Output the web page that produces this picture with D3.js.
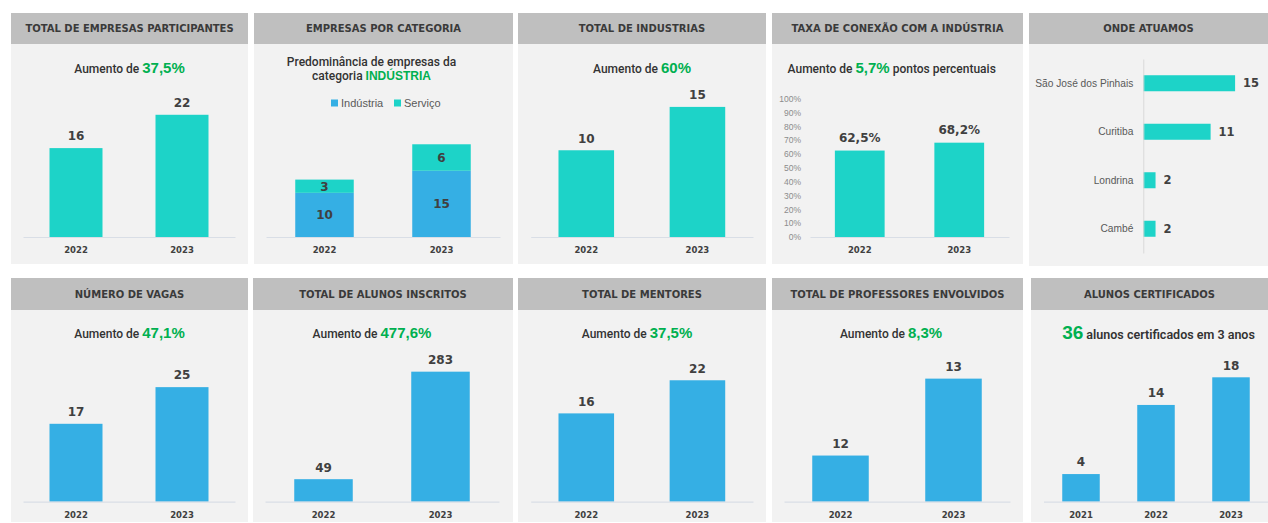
<!DOCTYPE html>
<html>
<head>
<meta charset="utf-8">
<script src="https://cdn.jsdelivr.net/npm/d3@7"></script>
<style>
  body { margin: 0; background: #fff; }
  svg { display: block; font-family: "Liberation Sans", Arial, sans-serif; }
</style>
</head>
<body>
<svg id="dash" width="1268" height="523"></svg>
<script>
// ---- dados ----
const years = ["2022", "2023"];
const yearsCert = ["2021", "2022", "2023"];
const empresasParticipantes = [16, 22];
const empresasIndustria = [10, 15];
const empresasServico = [3, 6];
const totalIndustrias = [10, 15];
const taxaConexao = [62.5, 68.2];
const percentTicks = [0, 10, 20, 30, 40, 50, 60, 70, 80, 90, 100];
const cidades = ["São José dos Pinhais", "Curitiba", "Londrina", "Cambé"];
const empresasPorCidade = [15, 11, 2, 2];
const numeroVagas = [17, 25];
const alunosInscritos = [49, 283];
const totalMentores = [16, 22];
const totalProfessores = [12, 13];
const alunosCertificados = [4, 14, 18];
const legendItems = ["Indústria", "Serviço"];

const TEAL = "#1DD3C8", BLUE = "#35AFE4", GREEN = "#00B050", DARK = "#404040";
const BOLD = "'DejaVu Sans', sans-serif";

const pt = d3.formatLocale({decimal: ",", thousands: ".", grouping: [3], currency: ["R$", ""]});
const pct1 = v => pt.format(".1f")(v) + "%";

const svg = d3.select("#dash");

// moldura de cada painel: cabeçalho cinza + corpo claro
function panel(x0, x1, top, headBottom, bottom, title) {
  const g = svg.append("g");
  g.append("rect").attr("x", x0).attr("y", top).attr("width", x1 - x0).attr("height", headBottom - top).attr("fill", "#BFBFBF");
  g.append("rect").attr("x", x0).attr("y", headBottom).attr("width", x1 - x0).attr("height", bottom - headBottom).attr("fill", "#F2F2F2");
  g.append("text")
    .attr("x", (x0 + x1) / 2).attr("y", (top + headBottom) / 2).attr("dy", "0.36em")
    .attr("text-anchor", "middle")
    .style("font-family", BOLD).style("font-weight", "bold").style("font-size", "10px")
    .attr("fill", "#3A3A3A").text(title);
  return g;
}

// subtítulo com partes coloridas
function subtitle(g, cx, cy, parts) {
  const t = g.append("text").attr("x", cx).attr("y", cy).attr("dy", "0.35em").attr("text-anchor", "middle");
  parts.forEach(p => {
    const s = t.append("tspan").text(p.t)
      .attr("fill", p.green ? GREEN : "#333")
      .style("font-size", (p.size || 12) + "px");
    if (p.green) s.style("font-weight", "bold");
    else s.style("font-family", "Roboto, sans-serif").style("font-weight", p.bold ? 600 : 500);
  });
  return t;
}

function xAxisBottom(g, x, base) {
  const ax = g.append("g").attr("transform", `translate(0,${base})`)
    .call(d3.axisBottom(x).tickSize(0).tickSizeOuter(0).tickPadding(10));
  ax.select(".domain").attr("stroke", "#D9DEE6").attr("stroke-width", 1.2);
  ax.selectAll("text").attr("fill", DARK)
    .style("font-family", BOLD).style("font-weight", "bold").style("font-size", "8.5px");
}

function vbar(g, cfg) {
  const x = d3.scaleBand().domain(cfg.cats).range(cfg.axisX).paddingInner(0.5).paddingOuter(0.25);
  const y = d3.scaleLinear().domain(cfg.domain).range([cfg.base, cfg.base - 170]);
  const data = cfg.cats.map((c, i) => ({c, v: cfg.vals[i]}));
  g.append("g").selectAll("rect").data(data).join("rect")
    .attr("x", d => x(d.c)).attr("width", x.bandwidth())
    .attr("y", d => y(d.v)).attr("height", d => cfg.base - y(d.v))
    .attr("fill", cfg.color);
  g.append("g").selectAll("text").data(data).join("text")
    .attr("x", d => x(d.c) + x.bandwidth() / 2).attr("y", d => y(d.v) - 12).attr("dy", "0.36em")
    .attr("text-anchor", "middle").attr("fill", DARK)
    .style("font-family", BOLD).style("font-weight", "bold").style("font-size", "12px")
    .text(d => cfg.fmt ? cfg.fmt(d.v) : d.v);
  xAxisBottom(g, x, cfg.base);
  return {x, y};
}

// ---------- linha 1 ----------
const B1 = 237, B2 = 501.7;

// 1. Total de empresas participantes
let g = panel(11, 248, 13, 44, 264, "TOTAL DE EMPRESAS PARTICIPANTES");
subtitle(g, 129.5, 67, [{t: "Aumento de "}, {t: "37,5%", green: true, size: 15}]);
vbar(g, {cats: years, vals: empresasParticipantes, color: TEAL, axisX: [23, 235], base: B1, domain: [0, 30.6]});

// 2. Empresas por categoria (empilhado)
g = panel(254, 513, 13, 44, 264, "EMPRESAS POR CATEGORIA");
subtitle(g, 371.5, 60, [{t: "Predominância de empresas da"}]);
subtitle(g, 371.5, 74, [{t: "categoria "}, {t: "INDÚSTRIA", green: true}]);
{
  const x = d3.scaleBand().domain(years).range([266, 500]).paddingInner(0.5).paddingOuter(0.25);
  const y = d3.scaleLinear().domain([0, 38.5]).range([B1, B1 - 170]);
  const stack = d3.stack().keys(legendItems)(years.map((yr, i) => ({yr, "Indústria": empresasIndustria[i], "Serviço": empresasServico[i]})));
  const colors = [BLUE, TEAL];
  stack.forEach((layer, li) => {
    g.append("g").selectAll("rect").data(layer).join("rect")
      .attr("x", d => x(d.data.yr)).attr("width", x.bandwidth())
      .attr("y", d => y(d[1])).attr("height", d => y(d[0]) - y(d[1]))
      .attr("fill", colors[li]);
    g.append("g").selectAll("text").data(layer).join("text")
      .attr("x", d => x(d.data.yr) + x.bandwidth() / 2).attr("y", d => (y(d[0]) + y(d[1])) / 2).attr("dy", "0.36em")
      .attr("text-anchor", "middle").attr("fill", DARK)
      .style("font-family", BOLD).style("font-weight", "bold").style("font-size", "12px")
      .text(d => d[1] - d[0]);
  });
  xAxisBottom(g, x, B1);
  const lg = g.append("g").selectAll("g").data(legendItems).join("g")
    .attr("transform", (d, i) => `translate(${[331, 394][i]},103)`);
  lg.append("rect").attr("x", 0).attr("y", -3.5).attr("width", 7).attr("height", 7).attr("fill", (d, i) => colors[i]);
  lg.append("text").attr("x", 10).attr("dy", "0.35em").attr("fill", "#595959").style("font-size", "11px").text(d => d);
}

// 3. Total de indústrias
g = panel(518, 766, 13, 44, 264, "TOTAL DE INDUSTRIAS");
subtitle(g, 642, 67, [{t: "Aumento de "}, {t: "60%", green: true, size: 15}]);
vbar(g, {cats: years, vals: totalIndustrias, color: TEAL, axisX: [530.7, 753], base: B1, domain: [0, 19.6]});

// 4. Taxa de conexão com a indústria
g = panel(772, 1023, 13, 44, 264, "TAXA DE CONEXÃO COM A INDÚSTRIA");
subtitle(g, 891.7, 67, [{t: "Aumento de "}, {t: "5,7%", green: true, size: 15}, {t: " pontos percentuais"}]);
{
  const x = d3.scaleBand().domain(years).range([810, 1009]).paddingInner(0.5).paddingOuter(0.25);
  const y = d3.scaleLinear().domain([0, 100]).range([B1, 98.7]);
  const ya = g.append("g").attr("transform", "translate(804,0)")
    .call(d3.axisLeft(y).tickValues(percentTicks).tickFormat(d => d + "%").tickSize(0).tickPadding(3));
  ya.select(".domain").remove();
  ya.selectAll("text").attr("fill", "#8C8C8C").style("font-size", "8.5px");
  const data = years.map((c, i) => ({c, v: taxaConexao[i]}));
  g.append("g").selectAll("rect").data(data).join("rect")
    .attr("x", d => x(d.c)).attr("width", x.bandwidth())
    .attr("y", d => y(d.v)).attr("height", d => B1 - y(d.v)).attr("fill", TEAL);
  g.append("g").selectAll("text").data(data).join("text")
    .attr("x", d => x(d.c) + x.bandwidth() / 2).attr("y", d => y(d.v) - 12.5).attr("dy", "0.36em")
    .attr("text-anchor", "middle").attr("fill", DARK)
    .style("font-family", BOLD).style("font-weight", "bold").style("font-size", "12px")
    .text(d => pct1(d.v));
  xAxisBottom(g, x, B1);
}

// 5. Onde atuamos (barras horizontais)
g = panel(1029, 1268, 13, 44, 266, "ONDE ATUAMOS");
{
  const y = d3.scaleBand().domain(cidades).range([59, 253]).paddingInner(0.67).paddingOuter(0.335);
  const x = d3.scaleLinear().domain([0, 20]).range([1143.3, 1143.3 + 122.4]);
  const data = cidades.map((c, i) => ({c, v: empresasPorCidade[i]}));
  g.append("g").selectAll("rect").data(data).join("rect")
    .attr("x", x(0)).attr("y", d => y(d.c)).attr("height", y.bandwidth())
    .attr("width", d => x(d.v) - x(0)).attr("fill", TEAL);
  g.append("g").selectAll("text").data(data).join("text")
    .attr("x", d => x(d.v) + 8).attr("y", d => y(d.c) + y.bandwidth() / 2).attr("dy", "0.36em")
    .attr("fill", DARK).style("font-family", BOLD).style("font-weight", "bold").style("font-size", "11.5px")
    .text(d => d.v);
  const ya = g.append("g").attr("transform", `translate(${x(0)},0)`)
    .call(d3.axisLeft(y).tickSize(0).tickSizeOuter(0).tickPadding(10));
  ya.select(".domain").attr("stroke", "#D9D9D9");
  ya.selectAll("text").attr("fill", "#595959").style("font-size", "10.2px");
}

// ---------- linha 2 ----------
g = panel(11, 248, 278, 310, 522, "NÚMERO DE VAGAS");
subtitle(g, 129.5, 332, [{t: "Aumento de "}, {t: "47,1%", green: true, size: 15}]);
vbar(g, {cats: years, vals: numeroVagas, color: BLUE, axisX: [23, 235], base: B2, domain: [0, 37.1]});

g = panel(253, 513, 278, 310, 522, "TOTAL DE ALUNOS INSCRITOS");
subtitle(g, 372, 332, [{t: "Aumento de "}, {t: "477,6%", green: true, size: 15}]);
vbar(g, {cats: years, vals: alunosInscritos, color: BLUE, axisX: [265, 499], base: B2, domain: [0, 370]});

g = panel(518, 766, 278, 310, 522, "TOTAL DE MENTORES");
subtitle(g, 637, 332, [{t: "Aumento de "}, {t: "37,5%", green: true, size: 15}]);
vbar(g, {cats: years, vals: totalMentores, color: BLUE, axisX: [530.7, 753], base: B2, domain: [0, 30.8]});

g = panel(772, 1023, 278, 310, 522, "TOTAL DE PROFESSORES ENVOLVIDOS");
subtitle(g, 891, 332, [{t: "Aumento de "}, {t: "8,3%", green: true, size: 15}]);
vbar(g, {cats: years, vals: totalProfessores, color: BLUE, axisX: [784, 1010], base: B2, domain: [11.4, 13.61]});

g = panel(1031, 1268, 278, 310, 522, "ALUNOS CERTIFICADOS");
subtitle(g, 1158.5, 333, [{t: String(d3.sum(alunosCertificados)), green: true, size: 19}, {t: " alunos certificados em 3 anos", bold: true, size: 12.5}]);
vbar(g, {cats: yearsCert, vals: alunosCertificados, color: BLUE, axisX: [1043.5, 1268.5], base: B2, domain: [0, 24.6]});
</script>
</body>
</html>
